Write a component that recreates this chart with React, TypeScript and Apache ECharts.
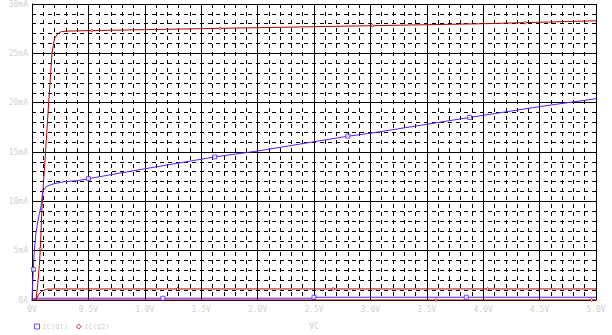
import React, { useEffect, useRef } from "react";
import * as echarts from "echarts";

// Trace data: [VC (V), IC (mA)]
const q1High: [number, number][] = [
  [0, 0], [0.005, 1.5], [0.012, 3.1], [0.02, 5], [0.035, 6.8], [0.06, 8.5], [0.08, 9.5],
  [0.095, 11], [0.125, 11.5], [0.2, 11.8], [0.29, 12], [0.41, 12.1], [0.5, 12.3],
  [1.0, 13.3], [1.62, 14.5], [2.0, 15.1], [2.8, 16.6], [3.0, 16.9], [3.88, 18.5],
  [4.5, 19.6], [5.0, 20.4],
];
const q1Low: [number, number][] = [
  [0, 0], [0.02, 0.15], [0.05, 0.18], [2.5, 0.18], [2.5, 0.28], [5.0, 0.28],
];
const q2High: [number, number][] = [
  [0.035, 0], [0.05, 1.5], [0.065, 3.5], [0.073, 5], [0.091, 10], [0.12, 15],
  [0.148, 20], [0.177, 25], [0.2, 26.5], [0.23, 27], [0.26, 27.2], [0.3, 27.25],
  [0.5, 27.3], [1.0, 27.4], [1.5, 27.5], [2.0, 27.6], [2.5, 27.7], [3.0, 27.8],
  [3.5, 27.9], [4.0, 28.0], [4.5, 28.15], [5.0, 28.3],
];
const q2Low: [number, number][] = [
  [0, 0], [0.035, 0], [0.06, 0.6], [0.09, 0.9], [0.13, 1.1], [0.17, 1.12], [5.0, 1.12],
];
const q2Zero: [number, number][] = [[0, 0], [5.0, 0]];

// Marker positions on traces
const q1Markers: [number, number][] = [
  [0.012, 3.1], [0.5, 12.3], [1.62, 14.5], [2.8, 16.6], [3.88, 18.5],
  [1.16, 0.18], [2.5, 0.28], [3.85, 0.28],
];
const q2Markers: [number, number][] = [
  [0.075, 5.2], [0.53, 27.3], [1.67, 27.53], [3.02, 27.8], [4.37, 28.1],
  [1.29, 1.12], [2.67, 1.12], [4.04, 1.12], [3.58, 0], [4.96, 0],
];

const legendNames = ["IC(Q1)", "IC(Q2)"];
const BLUE = "#5a1eff";
const RED = "#b40000";

export default function App() {
  const ref = useRef<HTMLDivElement>(null);
  useEffect(() => {
    if (!ref.current) return;
    const chart = echarts.init(ref.current, null, { renderer: "svg" });
    const labelStyle = { color: "#d2d2d2", fontSize: 8, fontFamily: "DejaVu Sans Mono" };
    const lineSeries = (data: [number, number][], color: string) => ({
      type: "line",
      data,
      showSymbol: false,
      symbol: "none",
      lineStyle: { color, width: 1 },
      silent: true,
      z: 3,
    });
    chart.setOption({
      animation: false,
      backgroundColor: "#ffffff",
      grid: { left: 32, right: 16, top: 4, bottom: 30 },
      legend: {
        left: 29,
        top: 318,
        itemWidth: 5,
        itemHeight: 5,
        itemGap: 8,
        textStyle: { ...labelStyle, fontSize: 7, padding: [0, 0, 0, -2] },
        data: [
          { name: legendNames[0], icon: "rect", itemStyle: { color: "transparent", borderColor: BLUE, borderWidth: 1 } },
          { name: legendNames[1], icon: "diamond", itemStyle: { color: "transparent", borderColor: RED, borderWidth: 1 } },
        ],
      },
      xAxis: {
        type: "value",
        min: 0,
        max: 5,
        interval: 0.5,
        name: "VC",
        nameLocation: "middle",
        nameGap: 22,
        nameTextStyle: labelStyle,
        axisLine: { show: true, lineStyle: { color: "#000", width: 1 } },
        axisTick: { show: false },
        axisLabel: {
          ...labelStyle,
          margin: 5,
          formatter: (v: number) => (v === 0 ? "0V" : v.toFixed(1) + "V"),
        },
        splitLine: { show: true, lineStyle: { color: "#000", width: 1 } },
        minorTick: { show: false, splitNumber: 5 },
        minorSplitLine: { show: true, lineStyle: { color: "#000", width: 1, type: [4, 4] } },
      },
      yAxis: {
        type: "value",
        min: 0,
        max: 30,
        interval: 5,
        axisLine: { show: true, lineStyle: { color: "#000", width: 1 } },
        axisTick: { show: false },
        axisLabel: {
          ...labelStyle,
          margin: 4,
          formatter: (v: number) => (v === 0 ? "0A" : v + "mA"),
        },
        splitLine: { show: true, lineStyle: { color: "#000", width: 1 } },
        minorTick: { show: false, splitNumber: 5 },
        minorSplitLine: { show: true, lineStyle: { color: "#000", width: 1, type: [4, 4] } },
      },
      series: [
        lineSeries(q2Zero, RED),
        lineSeries(q2Low, RED),
        lineSeries(q2High, RED),
        lineSeries(q1Low, BLUE),
        lineSeries(q1High, BLUE),
        {
          name: legendNames[0],
          type: "scatter",
          data: q1Markers,
          symbol: "rect",
          symbolSize: 4,
          itemStyle: { color: "#ffffff", borderColor: BLUE, borderWidth: 1 },
          z: 4,
        },
        {
          name: legendNames[1],
          type: "scatter",
          data: q2Markers,
          symbol: "diamond",
          symbolSize: 3,
          itemStyle: { color: "#ffffff", borderColor: RED, borderWidth: 1 },
          z: 4,
        },
      ],
    });
    return () => chart.dispose();
  }, []);
  return (
    <div
      ref={ref}
      style={{ position: "fixed", left: 0, top: 0, width: 612, height: 335, background: "#fff" }}
    />
  );
}
